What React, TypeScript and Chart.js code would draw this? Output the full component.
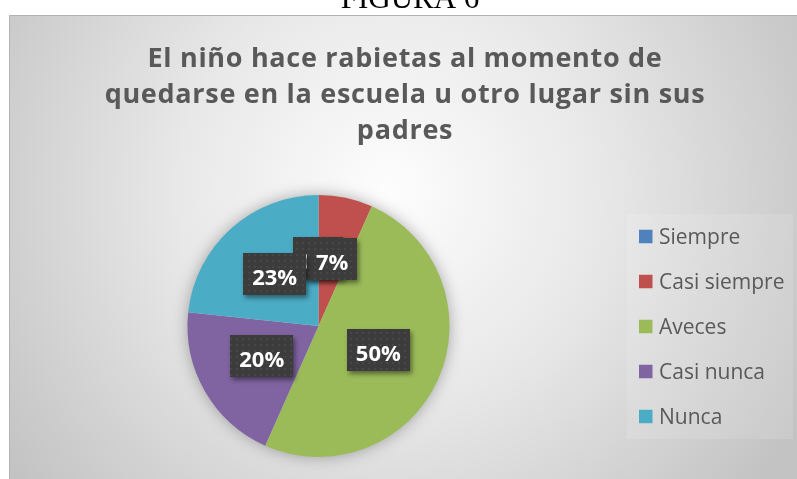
import React, { useEffect, useRef } from "react";
import { Chart, registerables } from "chart.js";
Chart.register(...registerables);

const categories = ["Siempre", "Casi siempre", "Aveces", "Casi nunca", "Nunca"];
const counts = [0, 2, 15, 6, 7];
const colors = ["#4f81bd", "#c0504d", "#9bbb59", "#8064a2", "#4bacc6"];
const titleLines = [
  "El niño hace rabietas al momento de",
  "quedarse en la escuela u otro lugar sin sus",
  "padres",
];
const captionText = "FIGURA 6";

const FONT = '"Open Sans", "Noto Sans", "DejaVu Sans", sans-serif';

function makePattern(ctx: CanvasRenderingContext2D) {
  const c = document.createElement("canvas");
  c.width = 6;
  c.height = 6;
  const p = c.getContext("2d")!;
  p.fillStyle = "#3c3c3c";
  p.fillRect(0, 0, 6, 6);
  p.fillStyle = "#474747";
  p.fillRect(2, 2, 2, 2);
  return ctx.createPattern(c, "repeat");
}

const decorPlugin = {
  id: "decor",
  beforeDraw(chart: any) {
    const ctx: CanvasRenderingContext2D = chart.ctx;
    const W = chart.width;
    const H = chart.height;
    ctx.save();
    ctx.fillStyle = "#ffffff";
    ctx.fillRect(0, 0, W, H);
    // caption above frame (cut off)
    ctx.fillStyle = "#000000";
    ctx.font = '31px "Liberation Serif", "Times New Roman", serif';
    ctx.textAlign = "center";
    ctx.textBaseline = "alphabetic";
    ctx.fillText(captionText, 410, 8);
    // frame background
    const g = ctx.createRadialGradient(390, 190, 0, 390, 190, 470);
    g.addColorStop(0, "#fdfdfd");
    g.addColorStop(0.45, "#e8e8e8");
    g.addColorStop(1, "#c3c3c3");
    ctx.fillStyle = g;
    ctx.fillRect(9, 15, W - 9, H - 15);
    ctx.strokeStyle = "#b3b3b3";
    ctx.lineWidth = 1;
    ctx.beginPath();
    ctx.moveTo(9.5, H);
    ctx.lineTo(9.5, 15.5);
    ctx.lineTo(W, 15.5);
    ctx.stroke();
    // title
    ctx.fillStyle = "#595959";
    ctx.font = "bold 27px " + FONT;
    (ctx as any).letterSpacing = "0.7px";
    const baselines = [67, 103, 139];
    titleLines.forEach((t, i) => ctx.fillText(t, 405, baselines[i]));
    (ctx as any).letterSpacing = "0px";
    // legend
    ctx.fillStyle = "rgba(255,255,255,0.12)";
    ctx.fillRect(627, 214, 166, 225);
    ctx.font = "21px " + FONT;
    ctx.textAlign = "left";
    const labels: string[] = chart.data.labels;
    const bg: string[] = chart.data.datasets[0].backgroundColor;
    labels.forEach((lab, i) => {
      const cy = 236.5 + i * 45;
      ctx.fillStyle = bg[i];
      ctx.fillRect(639, cy - 6.75, 13.5, 13.5);
      ctx.fillStyle = "#595959";
      ctx.fillText(lab, 659, cy + 7.5);
    });
    ctx.restore();
  },
  beforeDatasetsDraw(chart: any) {
    const ctx: CanvasRenderingContext2D = chart.ctx;
    const meta = chart.getDatasetMeta(0);
    const arc = meta.data[0];
    if (!arc) return;
    const { x, y, outerRadius } = arc.getProps(["x", "y", "outerRadius"], true);
    ctx.save();
    ctx.shadowColor = "rgba(0,0,0,0.35)";
    ctx.shadowBlur = 16;
    ctx.fillStyle = "#d8d8d8";
    ctx.beginPath();
    ctx.arc(x, y, outerRadius - 1, 0, Math.PI * 2);
    ctx.fill();
    ctx.restore();
  },
  afterDatasetsDraw(chart: any) {
    const ctx: CanvasRenderingContext2D = chart.ctx;
    const meta = chart.getDatasetMeta(0);
    const data: number[] = chart.data.datasets[0].data;
    const total = data.reduce((a, b) => a + b, 0);
    const pattern = makePattern(ctx);
    ctx.save();
    ctx.font = "bold 22px " + FONT;
    meta.data.forEach((el: any, i: number) => {
      const { x, y, startAngle, endAngle, outerRadius } = el.getProps(
        ["x", "y", "startAngle", "endAngle", "outerRadius"],
        true
      );
      const mid = (startAngle + endAngle) / 2;
      const r = outerRadius * 0.5;
      const px = x + Math.cos(mid) * r;
      const py = y + Math.sin(mid) * r;
      const txt = Math.round((data[i] / total) * 100) + "%";
      const tw = ctx.measureText(txt).width;
      const bw = tw + 18;
      const bh = 42;
      ctx.save();
      ctx.shadowColor = "rgba(0,0,0,0.45)";
      ctx.shadowOffsetX = 2;
      ctx.shadowOffsetY = 3;
      ctx.shadowBlur = 5;
      ctx.fillStyle = pattern || "#3c3c3c";
      ctx.fillRect(Math.round(px - bw / 2), Math.round(py - 3 - bh / 2), Math.round(bw), bh);
      ctx.restore();
      ctx.fillStyle = "#ffffff";
      ctx.textAlign = "center";
      ctx.textBaseline = "alphabetic";
      ctx.fillText(txt, px, py + 8);
    });
    ctx.restore();
  },
};

export default function App() {
  const ref = useRef<HTMLCanvasElement | null>(null);
  useEffect(() => {
    if (!ref.current) return;
    const chart = new Chart(ref.current, {
      type: "pie",
      data: {
        labels: categories,
        datasets: [
          {
            data: counts,
            backgroundColor: colors,
            borderWidth: 0,
          },
        ],
      },
      options: {
        responsive: false,
        animation: false,
        devicePixelRatio: 1,
        layout: { padding: { left: 187.5, right: 347.5, top: 195, bottom: 22 } },
        plugins: {
          legend: { display: false },
          title: { display: false },
          tooltip: { enabled: false },
        },
      },
      plugins: [decorPlugin],
    });
    let alive = true;
    Promise.all([
      document.fonts.load("bold 27px \"Open Sans\""),
      document.fonts.load("21px \"Open Sans\""),
      document.fonts.load("31px \"Liberation Serif\""),
    ]).then(() => {
      if (alive) chart.update();
    }).catch(() => {});
    return () => {
      alive = false;
      chart.destroy();
    };
  }, []);
  return (
    <div style={{ position: "fixed", left: 0, top: 0, width: 797, height: 479 }}>
      <canvas ref={ref} width={797} height={479} style={{ display: "block" }} />
    </div>
  );
}
